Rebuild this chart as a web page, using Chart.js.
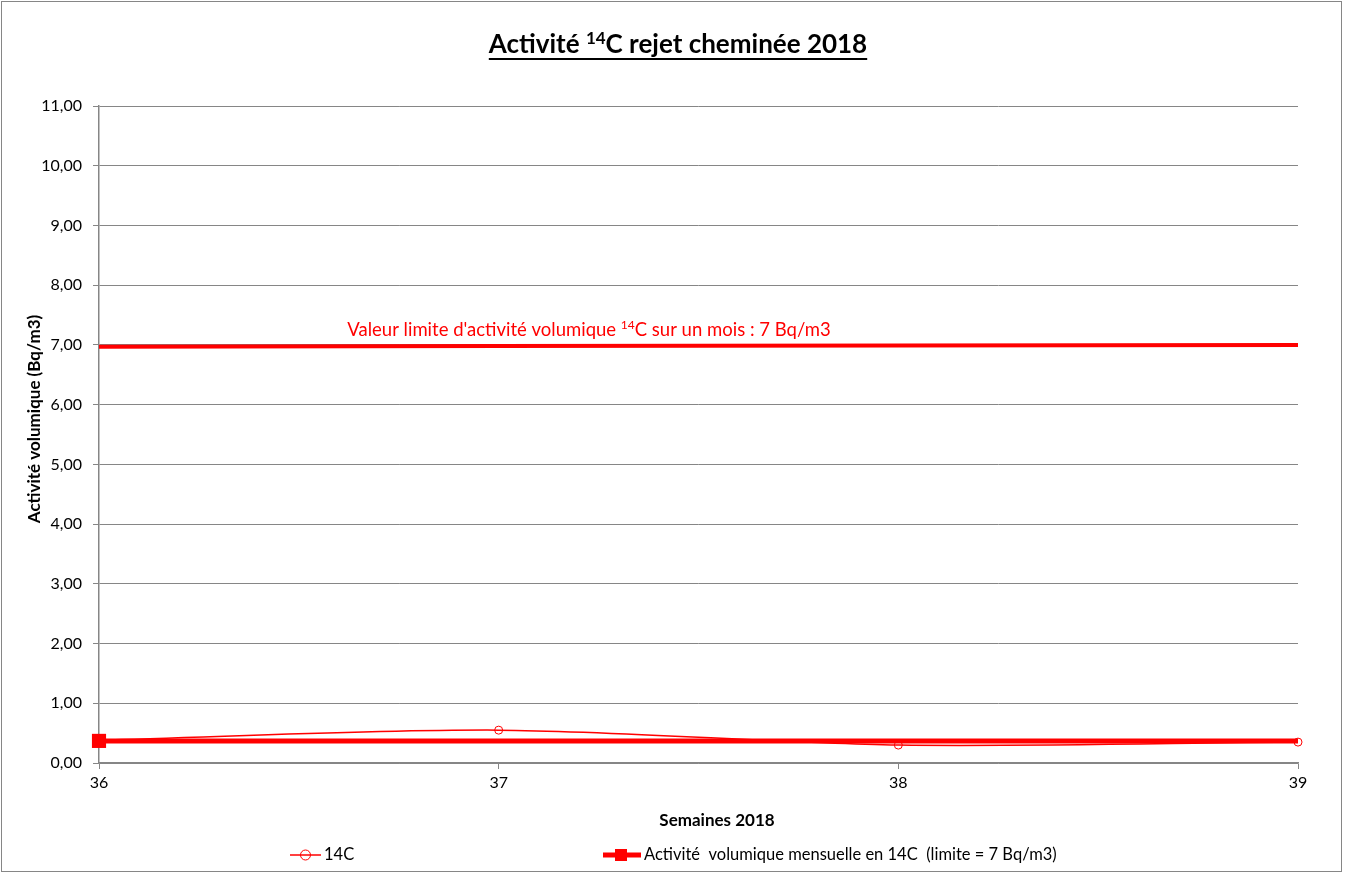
<!DOCTYPE html>
<html><head><meta charset="utf-8">
<script src="https://cdn.jsdelivr.net/npm/chart.js@4"></script>
<style>html,body{margin:0;padding:0;background:#fff}#wrap{width:1345px;height:874px}</style>
</head><body><div id="wrap"><canvas id="c" width="1345" height="874"></canvas></div>
<script>
const weeks = [36, 37, 38, 39];
const c14Values = [0.38, 0.55, 0.30, 0.35];
const monthlyValues = [0.37, 0.37, 0.37, 0.37];
const limitValues = [6.97, 6.98, 6.99, 7.0];
const yTicks = [0,1,2,3,4,5,6,7,8,9,10,11];
const titleParts = ["Activité ", "14", "C rejet cheminée 2018"];
const limitLabelParts = ["Valeur limite d'activité volumique ", "14", "C sur un mois : 7 Bq/m3"];
const legendLabels = ["14C", "Activité  volumique mensuelle en 14C  (limite = 7 Bq/m3)"];
const xTitle = "Semaines 2018";
const yTitle = "Activité volumique (Bq/m3)";
const FONT = "Lato, 'Open Sans', sans-serif";

function drawParts(ctx, parts, x, y, size, bold, color, align) {
  const f = (sup) => (bold?"bold ":"") + (sup? Math.round(size*0.65):size) + "px " + FONT;
  const w = (s, sup) => { ctx.font = f(sup); return ctx.measureText(s).width; };
  const total = w(parts[0]) + w(parts[1], true) + w(parts[2]);
  let cx = align === "center" ? x - total/2 : x;
  const start = cx;
  ctx.fillStyle = color; ctx.textBaseline = "alphabetic"; ctx.textAlign = "left";
  ctx.font = f(false); ctx.fillText(parts[0], cx, y); cx += w(parts[0]);
  ctx.font = f(true); ctx.fillText(parts[1], cx, y - size*0.36); cx += w(parts[1], true);
  ctx.font = f(false); ctx.fillText(parts[2], cx, y); cx += w(parts[2]);
  return [start, cx];
}

const deco = {
  id: 'deco',
  afterDraw(chart) {
    const ctx = chart.ctx;
    ctx.save();
    ctx.strokeStyle = '#868686'; ctx.lineWidth = 1;
    ctx.strokeRect(1.5, 1.5, 1340, 870);
    // title
    const [s, e] = drawParts(ctx, titleParts, 678, 53, 26, true, '#000', 'center');
    ctx.strokeStyle = '#000'; ctx.lineWidth = 2;
    ctx.beginPath(); ctx.moveTo(s, 59); ctx.lineTo(e, 59); ctx.stroke();
    // limit label
    drawParts(ctx, limitLabelParts, 589, 336, 18.5, false, '#ff0000', 'center');
    // axis titles
    ctx.fillStyle = '#000'; ctx.textAlign = 'center'; ctx.textBaseline = 'middle';
    ctx.font = "bold 17px " + FONT;
    ctx.fillText(xTitle, 717, 821);
    ctx.save(); ctx.translate(35, 419); ctx.rotate(-Math.PI/2); ctx.fillText(yTitle, 0, 0); ctx.restore();
    // legend
    const ly = 855;
    ctx.textAlign = 'left';
    ctx.strokeStyle = '#ff0000'; ctx.lineWidth = 1.5;
    ctx.beginPath(); ctx.moveTo(290, ly); ctx.lineTo(321, ly); ctx.stroke();
    ctx.fillStyle = '#fff'; ctx.lineWidth = 1;
    ctx.beginPath(); ctx.arc(305.5, ly, 5, 0, Math.PI*2); ctx.fill(); ctx.stroke();
    ctx.strokeStyle = '#ff0000'; ctx.lineWidth = 1.5;
    ctx.beginPath(); ctx.moveTo(300.5, ly); ctx.lineTo(310.5, ly); ctx.stroke();
    ctx.fillStyle = '#000'; ctx.font = "16.5px " + FONT; ctx.textBaseline = 'middle';
    ctx.fillText(legendLabels[0], 324, ly);
    ctx.strokeStyle = '#ff0000'; ctx.lineWidth = 5;
    ctx.beginPath(); ctx.moveTo(603, ly); ctx.lineTo(641, ly); ctx.stroke();
    ctx.fillStyle = '#ff0000'; ctx.fillRect(615, ly-6, 12, 12);
    ctx.fillStyle = '#000'; ctx.fillText(legendLabels[1], 644, ly);
    ctx.restore();
  }
};

new Chart(document.getElementById('c'), {
  type: 'line',
  data: {
    datasets: [
      { label: legendLabels[0], data: weeks.map((w,i)=>({x:w,y:c14Values[i]})), borderColor:'#ff0000', backgroundColor:'#fff', pointBackgroundColor:'rgba(255,255,255,0)', borderWidth:1.5, pointRadius:4, pointBorderWidth:1, pointStyle:'circle', tension:0.3, clip:false, order:1 },
      { label: legendLabels[1], data: weeks.map((w,i)=>({x:w,y:monthlyValues[i]})), borderColor:'#ff0000', backgroundColor:'#ff0000', pointBackgroundColor:'#ff0000', pointBorderWidth:0, borderWidth:5, pointRadius:[10,0,0,0], pointStyle:'rect', clip:false, order:2 },
      { label: 'limite', data: weeks.map((w,i)=>({x:w,y:limitValues[i]})), borderColor:'#ff0000', borderWidth:4, pointRadius:0, order:3 }
    ]
  },
  options: {
    responsive:false, animation:false, maintainAspectRatio:false,
    layout:{padding:{left:0,right:47,top:106,bottom:0}},
    plugins:{legend:{display:false}, title:{display:false}, tooltip:{enabled:false}},
    scales:{
      x:{ type:'linear', min:36, max:39,
          afterBuildTicks(s){ s.ticks = weeks.map(v=>({value:v})); },
          afterFit(s){ s.height = 111; },
          grid:{display:true, drawOnChartArea:false, color:'#868686', tickLength:6, tickColor:'#868686'},
          border:{color:'#868686', width:1.5},
          ticks:{color:'#000', font:{family:FONT,size:16}, padding:4}
      },
      y:{ min:0, max:11,
          afterBuildTicks(s){ s.ticks = yTicks.map(v=>({value:v})); },
          afterFit(s){ s.width = 99; },
          grid:{color:'#868686', tickLength:6, tickColor:'#868686'},
          border:{color:'#868686', width:1.5},
          ticks:{color:'#000', font:{family:FONT,size:16}, padding:11, callback:v=>v.toFixed(2).replace('.',',')}
      }
    }
  },
  plugins:[deco]
});
</script></body></html>
